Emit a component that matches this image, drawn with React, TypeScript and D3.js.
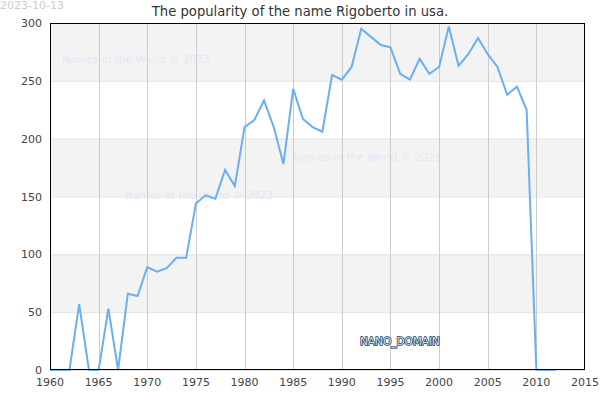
import React, { useEffect, useRef } from "react";
import * as d3 from "d3";

const years = d3.range(1960, 2013);
const counts = [
  0, 0, 0, 57, 0, 0, 53, 0, 66, 64,
  89, 85, 88, 97, 97, 144, 151, 148, 173, 159,
  210, 216, 233, 210, 178, 243, 217, 210, 206, 255,
  251, 262, 295, 288, 281, 279, 256, 251, 269, 256,
  262, 297, 263, 273, 287, 273, 262, 238, 245, 225,
  0, 0, 0,
];
const xTicks = [1960, 1965, 1970, 1975, 1980, 1985, 1990, 1995, 2000, 2005, 2010, 2015];
const yTicks = [0, 50, 100, 150, 200, 250, 300];
const watermarks = [
  { x: 1961.2, y: 265.5 },
  { x: 1985, y: 181 },
  { x: 1967.7, y: 147.5 },
];

const App = () => {
  const svgRef: any = useRef();

  useEffect(() => {
    const svg = d3.select(svgRef.current);
    svg.selectAll("*").remove();
    const width = 600;
    const height = 400;
    const margin = { top: 23, right: 15, bottom: 30, left: 50 };
    const font = "DejaVu Sans, sans-serif";

    const x = d3.scaleLinear().domain([1960, 2015]).range([margin.left, width - margin.right]);
    const y = d3.scaleLinear().domain([0, 300]).range([height - margin.bottom, margin.top]);

    // alternating bands
    const bands = d3.pairs(yTicks).filter((_, i) => i % 2 === 1);
    svg
      .selectAll(".band")
      .data(bands)
      .join("rect")
      .attr("x", x(1960))
      .attr("width", x(2015) - x(1960))
      .attr("y", (d) => y(d[1]))
      .attr("height", (d) => y(d[0]) - y(d[1]))
      .attr("fill", "#f3f3f3");

    // horizontal grid
    svg
      .selectAll(".hgrid")
      .data(yTicks)
      .join("line")
      .attr("x1", x(1960))
      .attr("x2", x(2015))
      .attr("y1", (d) => y(d) + 0.5)
      .attr("y2", (d) => y(d) + 0.5)
      .attr("stroke", "#e2e2e2");

    // watermarks
    svg
      .selectAll(".wm")
      .data(watermarks)
      .join("text")
      .attr("x", (d) => x(d.x))
      .attr("y", (d) => y(d.y))
      .attr("font-family", font)
      .attr("font-size", 10.5)
      .attr("fill", "#e6e6f5")
      .text("Names of the World © 2023");

    // vertical grid
    svg
      .selectAll(".vgrid")
      .data(xTicks.slice(1, -1))
      .join("line")
      .attr("x1", (d) => Math.round(x(d)) + 0.5)
      .attr("x2", (d) => Math.round(x(d)) + 0.5)
      .attr("y1", y(300))
      .attr("y2", y(0))
      .attr("stroke", "#cccccc");

    // line
    const line = d3
      .line<number>()
      .x((_, i) => x(years[i]))
      .y((d) => y(d));
    svg
      .append("path")
      .datum(counts)
      .attr("d", line)
      .attr("fill", "none")
      .attr("stroke", "#6aaff2")
      .attr("stroke-width", 2)
      .attr("stroke-linejoin", "miter");

    // frame
    svg
      .append("rect")
      .attr("x", x(1960) + 0.5)
      .attr("y", y(300) + 0.5)
      .attr("width", x(2015) - x(1960) - 1)
      .attr("height", y(0) - y(300) - 1)
      .attr("fill", "none")
      .attr("stroke", "#000")
      .attr("stroke-width", 1);

    // axis labels
    svg
      .selectAll(".ylab")
      .data(yTicks)
      .join("text")
      .attr("x", margin.left - 8)
      .attr("y", (d) => y(d) + 4)
      .attr("text-anchor", "end")
      .attr("font-family", font)
      .attr("font-size", 11)
      .attr("fill", "#444")
      .text((d) => d);

    svg
      .selectAll(".xlab")
      .data(xTicks)
      .join("text")
      .attr("x", (d) => x(d))
      .attr("y", height - 14)
      .attr("text-anchor", "middle")
      .attr("font-family", font)
      .attr("font-size", 11)
      .attr("fill", "#444")
      .text((d) => d);

    // title and date
    svg
      .append("text")
      .attr("x", 300)
      .attr("y", 16)
      .attr("text-anchor", "middle")
      .attr("font-family", font)
      .attr("font-size", 13.2)
      .attr("fill", "#333")
      .text("The popularity of the name Rigoberto in usa.");

    svg
      .append("text")
      .attr("x", 0)
      .attr("y", 9)
      .attr("font-family", font)
      .attr("font-size", 11)
      .attr("fill", "#cccccc")
      .text("2023-10-13");

    svg
      .append("text")
      .attr("x", 360)
      .attr("y", 345)
      .attr("font-family", font)
      .attr("font-size", 10.5)
      .attr("fill", "#cfe3f7")
      .attr("stroke", "#1c3f66")
      .attr("stroke-width", 1.5)
      .attr("paint-order", "stroke")
      .text("NANO_DOMAIN");
  }, []);

  return (
    <svg
      ref={svgRef}
      width={600}
      height={400}
      style={{ position: "absolute", left: 0, top: 0 }}
    ></svg>
  );
};

export default App;
